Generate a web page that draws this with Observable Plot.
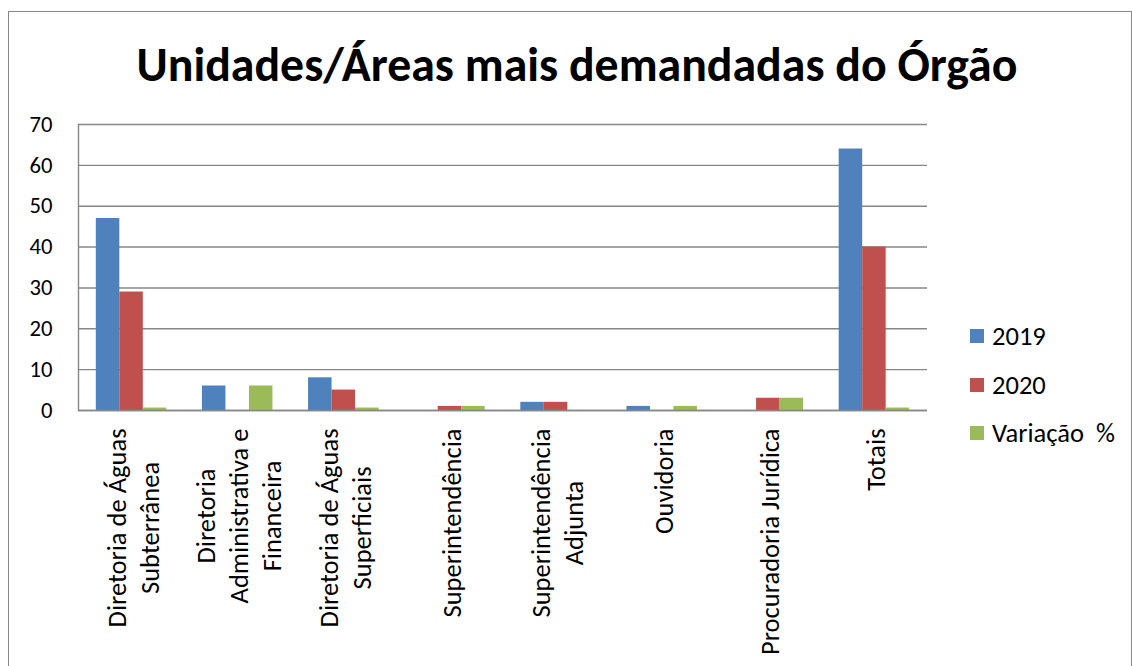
<!DOCTYPE html>
<html>
<head>
<meta charset="utf-8">
<script src="https://cdn.jsdelivr.net/npm/d3@7"></script>
<script src="https://cdn.jsdelivr.net/npm/@observablehq/plot@0.6"></script>
<style>
  body { margin: 0; background: #fff; }
  #wrap { position: relative; width: 1132px; height: 666px; overflow: hidden; background: #fff; }
  #border { position: absolute; left: 8px; top: 11px; width: 1124px; height: 700px; border: 1.5px solid #878787; box-sizing: border-box; }
  #title { position: absolute; left: 0; width: 1154px; text-align: center; font-weight: bold; color: #000; white-space: nowrap; line-height: 1; }
  #chart { position: absolute; left: 0; top: 100px; }
  #legend { position: absolute; left: 970px; top: 0; color: #000; }
  .lg { position: absolute; display: flex; align-items: center; white-space: pre; left: 0; }
  .sw { width: 14px; height: 14px; margin-right: 8px; flex: none; }
</style>
</head>
<body>
<div id="wrap">
  <div id="border"></div>
  <div id="title"></div>
  <div id="chart"></div>
  <div id="legend"></div>
</div>
<script>
// ---- data ----
const title = "Unidades/Áreas mais demandadas do Órgão";
const categories = [
  "Diretoria de Águas\nSubterrânea",
  "Diretoria\nAdministrativa e\nFinanceira",
  "Diretoria de Águas\nSuperficiais",
  "Superintendência",
  "Superintendência\nAdjunta",
  "Ouvidoria",
  "Procuradoria Jurídica",
  "Totais"
];
const series = ["2019", "2020", "Variação  %"];
const values2019 = [47, 6, 8, 0, 2, 1, 0, 64];
const values2020 = [29, 0, 5, 1, 2, 0, 3, 40];
const valuesVariacao = [0.6, 6, 0.6, 1, 0, 1, 3, 0.6];
const yTicks = [0, 10, 20, 30, 40, 50, 60, 70];
const colors = ["#4F81BD", "#C0504D", "#9BBB59"];

// ---- fonts / measuring ----
const FONT = "Carlito, Lato, sans-serif";
const ctx = document.createElement("canvas").getContext("2d");
function tw(text, size, weight = "normal") {
  ctx.font = `${weight} ${size}px ${FONT}`;
  return ctx.measureText(text).width;
}
const titleSize = 881 * 100 / tw(title, 100, "bold");
const xLabelSize = 199 * 100 / tw("Diretoria de Águas", 100);
const yTickSize = 23 * 100 / tw("70", 100);
const legendSize = 123 * 100 / tw("Variação  %", 100);

// ---- title ----
const t = document.getElementById("title");
t.textContent = title;
t.style.fontFamily = FONT;
t.style.fontSize = titleSize + "px";
t.style.top = (83 - 0.887 * titleSize) + "px";

// ---- layout ----
const W = 1132, H = 566;
const mL = 78, mR = 1132 - 927, mT = 24, mB = H - 24 - 286;
const step = (W - mL - mR) / categories.length;
const barW = 23.5;
const inset = (step - barW) / 2;

const valueLists = [values2019, values2020, valuesVariacao];
const barMarks = series.map((s, j) =>
  Plot.barY(categories.map((c, i) => ({cat: c, value: valueLists[j][i]})), {
    x: "cat", y: "value", fill: colors[j],
    insetLeft: inset, insetRight: inset, dx: (j - 1) * barW
  })
);

const labelMarks = categories.map(c => {
  const lines = c.split("\n");
  const maxW = Math.max(...lines.map(l => tw(l, xLabelSize)));
  return Plot.text([c], {
    x: d => d, text: d => d, frameAnchor: "bottom", rotate: -90,
    textAnchor: "middle", lineAnchor: "middle", lineHeight: 1.25,
    fontSize: xLabelSize, fill: "#000", dy: 18 + maxW / 2
  });
});

const chart = Plot.plot({
  width: W, height: H,
  marginLeft: mL, marginRight: mR, marginTop: mT, marginBottom: mB,
  style: {fontFamily: FONT, background: "transparent", color: "#000"},
  x: {domain: categories, padding: 0, round: false, axis: null},
  y: {domain: [0, 70], axis: null},
  marks: [
    Plot.gridY(yTicks, {stroke: "#878787", strokeOpacity: 1, strokeWidth: 1.4}),
    Plot.frame({anchor: "left", stroke: "#878787", strokeWidth: 1.4}),
    ...barMarks,
    Plot.ruleY([0], {stroke: "#878787", strokeWidth: 1.6}),
    Plot.axisY(yTicks, {tickSize: 0, tickPadding: 26, fontSize: yTickSize, fill: "#000", label: null}),
    ...labelMarks
  ]
});
document.getElementById("chart").appendChild(chart);

// ---- legend ----
const lg = document.getElementById("legend");
const centers = [336, 385, 433];
series.forEach((s, j) => {
  const row = document.createElement("div");
  row.className = "lg";
  row.style.fontFamily = FONT;
  row.style.fontSize = legendSize + "px";
  row.style.lineHeight = "30px";
  row.style.height = "30px";
  row.style.top = (centers[j] - 15) + "px";
  const sw = document.createElement("div");
  sw.className = "sw";
  sw.style.background = colors[j];
  const tx = document.createElement("span");
  tx.textContent = s;
  row.appendChild(sw);
  row.appendChild(tx);
  lg.appendChild(row);
});
</script>
</body>
</html>
